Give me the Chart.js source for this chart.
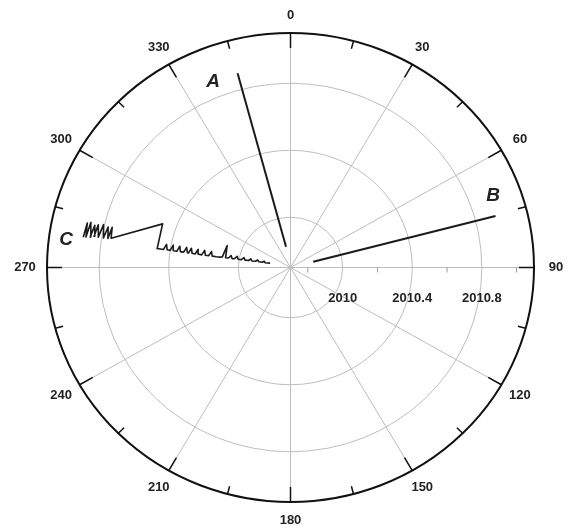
<!DOCTYPE html>
<html>
<head>
<meta charset="utf-8">
<script src="https://cdn.jsdelivr.net/npm/chart.js@4.4.0/dist/chart.umd.min.js"></script>
<style>
  html, body { margin: 0; padding: 0; background: #fff; }
</style>
</head>
<body>
<canvas id="chart" width="570" height="530"></canvas>
<script>
// Radial axis is time (years); the centre of the plot is the axis minimum
const radialMin = 2009.7;
const radialMax = 2011.1;
const ringYears = [2010, 2010.4, 2010.8];
const ringLabels = ['2010', '2010.4', '2010.8'];
const minorTickYears = [2009.8, 2010.2, 2010.6, 2011.0];

// Angular axis, degrees clockwise from the top
const spokeAngles = [0, 30, 60, 90, 120, 150, 180, 210, 240, 270, 300, 330];
const angleLabels = ['0', '30', '60', '90', '120', '150', '180', '210', '240', '270', '300', '330'];
const rimTickAngles = [0, 15, 30, 45, 60, 75, 90, 105, 120, 135, 150, 165,
  180, 195, 210, 225, 240, 255, 270, 285, 300, 315, 330, 345];

// Series A
const aYears = [2009.826, 2010.899];
const aAngles = [348.2, 345.3];

// Series B
const bYears = [2009.835, 2010.918];
const bAngles = [75.2, 75.4];

// Series C
const cYears = [
  2009.82, 2009.835, 2009.848, 2009.856, 2009.866, 2009.885, 2009.894, 2009.905,
  2009.925, 2009.934, 2009.945, 2009.965, 2009.974, 2009.986, 2010.005, 2010.014,
  2010.027, 2010.04, 2010.049, 2010.061, 2010.078, 2010.087, 2010.097, 2010.11,
  2010.13, 2010.155, 2010.164, 2010.176, 2010.195, 2010.204, 2010.216, 2010.233,
  2010.242, 2010.254, 2010.272, 2010.281, 2010.293, 2010.3, 2010.309, 2010.321,
  2010.34, 2010.349, 2010.361, 2010.378, 2010.387, 2010.399, 2010.417, 2010.426,
  2010.438, 2010.465, 2010.475, 2010.48, 2010.746, 2010.753, 2010.764, 2010.776,
  2010.79, 2010.805, 2010.82, 2010.834, 2010.845, 2010.853, 2010.866, 2010.879,
  2010.89, 2010.898, 2010.905
];
const cAngles = [
  282.5, 281.6, 281.2, 284.0, 281.0, 280.6, 283.3, 280.4,
  280.0, 282.8, 279.8, 279.6, 282.5, 279.5, 279.3, 282.2,
  279.2, 279.0, 281.9, 279.0, 278.8, 289.8, 279.2, 278.7,
  278.6, 278.6, 281.8, 278.5, 278.5, 281.7, 278.4, 278.5,
  281.5, 278.4, 278.5, 281.4, 278.4, 278.6, 281.4, 278.5,
  278.5, 281.3, 278.4, 278.5, 281.2, 278.4, 278.5, 281.0,
  278.4, 278.4, 278.3, 289.5, 279.6, 283.2, 279.4, 283.0,
  279.3, 283.4, 279.3, 283.0, 279.4, 282.6, 279.0, 283.2,
  278.8, 282.8, 278.6
];

// Where the series letters sit (angle, year)
const seriesNames = ['A', 'B', 'C'];
const namePlaces = [[338.1, 2010.894], [69.9, 2010.94], [277.2, 2011.0]];

const labelFont = 'bold 13px "Liberation Sans", Arial, sans-serif';

function toXY(years, angles) {
  return years.map((yr, i) => {
    const t = angles[i] * Math.PI / 180;
    const r = yr - radialMin;
    return { x: r * Math.sin(t), y: r * Math.cos(t) };
  });
}

const R = radialMax - radialMin;

// draws rings, spokes, rim and all the axis text from the x/y scales
const polarGrid = {
  id: 'polarGrid',
  beforeDatasetsDraw(chart) {
    const { ctx, scales: { x, y } } = chart;
    const cx = x.getPixelForValue(0);
    const cy = y.getPixelForValue(0);
    const pos = (deg, r) => {
      const t = deg * Math.PI / 180;
      return [x.getPixelForValue(r * Math.sin(t)), y.getPixelForValue(r * Math.cos(t))];
    };
    ctx.save();
    ctx.strokeStyle = '#bdbdbd';
    ctx.lineWidth = 1;
    spokeAngles.forEach(a => {
      const [ex, ey] = pos(a, R);
      ctx.beginPath();
      ctx.moveTo(cx, cy);
      ctx.lineTo(ex, ey);
      ctx.stroke();
    });
    ringYears.forEach(yr => {
      const r = yr - radialMin;
      ctx.beginPath();
      ctx.ellipse(cx, cy, x.getPixelForValue(r) - cx, cy - y.getPixelForValue(r), 0, 0, Math.PI * 2);
      ctx.stroke();
    });
    // small ticks on the 90 degree axis
    ctx.strokeStyle = '#999';
    minorTickYears.forEach(yr => {
      const [tx, ty] = pos(90, yr - radialMin);
      ctx.beginPath();
      ctx.moveTo(tx, ty);
      ctx.lineTo(tx, ty + 5);
      ctx.stroke();
    });
    ctx.restore();
  },
  afterDraw(chart) {
    const { ctx, scales: { x, y } } = chart;
    const cx = x.getPixelForValue(0);
    const cy = y.getPixelForValue(0);
    const pos = (deg, r) => {
      const t = deg * Math.PI / 180;
      return [x.getPixelForValue(r * Math.sin(t)), y.getPixelForValue(r * Math.cos(t))];
    };
    ctx.save();
    // rim
    ctx.strokeStyle = '#111';
    ctx.lineWidth = 2;
    ctx.beginPath();
    ctx.ellipse(cx, cy, x.getPixelForValue(R) - cx, cy - y.getPixelForValue(R), 0, 0, Math.PI * 2);
    ctx.stroke();
    ctx.lineWidth = 1.5;
    rimTickAngles.forEach(a => {
      const [ex, ey] = pos(a, R);
      const len = a % 30 === 0 ? 15 : 8;
      const d = Math.hypot(ex - cx, ey - cy);
      ctx.beginPath();
      ctx.moveTo(ex, ey);
      ctx.lineTo(ex - (ex - cx) * len / d, ey - (ey - cy) * len / d);
      ctx.stroke();
    });
    // angle labels
    ctx.fillStyle = '#222';
    ctx.font = labelFont;
    ctx.textAlign = 'center';
    ctx.textBaseline = 'middle';
    spokeAngles.forEach((a, i) => {
      const t = a * Math.PI / 180;
      const [ex, ey] = pos(a, R);
      const off = 18 + Math.abs(Math.sin(t)) * 4;
      ctx.fillText(angleLabels[i], ex + Math.sin(t) * off, ey - Math.cos(t) * off);
    });
    // radial labels
    ringYears.forEach((yr, i) => {
      const [tx, ty] = pos(90, yr - radialMin);
      ctx.fillText(ringLabels[i], tx, ty + 31);
    });
    // series letters
    ctx.font = 'italic bold 19px "Liberation Sans", Arial, sans-serif';
    seriesNames.forEach((n, i) => {
      const [lx, ly] = pos(namePlaces[i][0], namePlaces[i][1] - radialMin);
      ctx.fillText(n, lx, ly);
    });
    ctx.restore();
  }
};

const lineColor = '#1a1a1a';

new Chart(document.getElementById('chart'), {
  type: 'scatter',
  data: {
    datasets: [
      { label: 'A', data: toXY(aYears, aAngles), showLine: true, borderColor: lineColor, borderWidth: 2 },
      { label: 'B', data: toXY(bYears, bAngles), showLine: true, borderColor: lineColor, borderWidth: 2 },
      { label: 'C', data: toXY(cYears, cAngles), showLine: true, borderColor: lineColor, borderWidth: 1.6 }
    ]
  },
  options: {
    responsive: false,
    animation: false,
    layout: { padding: { left: 47, right: 36, top: 33, bottom: 28 } },
    elements: { point: { radius: 0 }, line: { tension: 0, borderJoinStyle: 'round' } },
    scales: {
      x: { type: 'linear', min: -R, max: R, display: false },
      y: { type: 'linear', min: -R, max: R, display: false }
    },
    plugins: {
      legend: { display: false },
      tooltip: { enabled: false }
    }
  },
  plugins: [polarGrid]
});
</script>
</body>
</html>
